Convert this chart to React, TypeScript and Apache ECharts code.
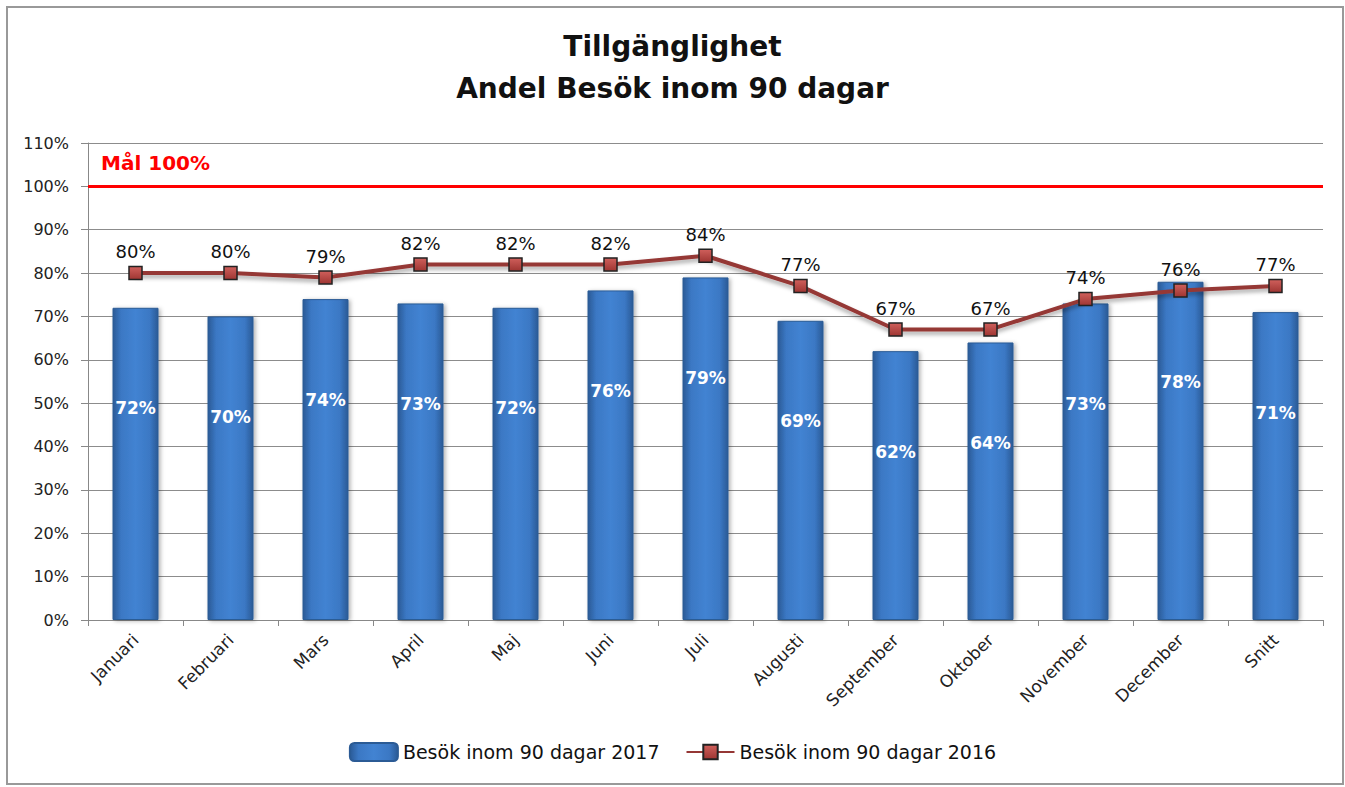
import React, { useEffect, useRef } from "react";
import * as echarts from "echarts";

const categories = ["Januari", "Februari", "Mars", "April", "Maj", "Juni", "Juli", "Augusti", "September", "Oktober", "November", "December", "Snitt"];
const visits2017 = [72, 70, 74, 73, 72, 76, 79, 69, 62, 64, 73, 78, 71];
const visits2016 = [80, 80, 79, 82, 82, 82, 84, 77, 67, 67, 74, 76, 77];
const goalValue = 100;
const titleLines = ["Tillgänglighet", "Andel Besök inom 90 dagar"];
const seriesNames = ["Besök inom 90 dagar 2017", "Besök inom 90 dagar 2016"];
const goalLabel = "Mål 100%";

const FONT = "'DejaVu Sans', 'Liberation Sans', sans-serif";

export default function App() {
  const ref = useRef<HTMLDivElement>(null);
  useEffect(() => {
    document.body.style.margin = "0";
    const chart = echarts.init(ref.current!, null, { renderer: "svg" });
    const barColor = new echarts.graphic.LinearGradient(0, 0, 1, 0, [
      { offset: 0, color: "#2a5a96" },
      { offset: 0.18, color: "#3b78c4" },
      { offset: 0.5, color: "#4283d2" },
      { offset: 0.82, color: "#3b78c4" },
      { offset: 1, color: "#2a5a96" },
    ]);
    const markerColor = new echarts.graphic.LinearGradient(0, 0, 0, 1, [
      { offset: 0, color: "#d0605c" },
      { offset: 1, color: "#9e3532" },
    ]);
    chart.setOption({
      animation: false,
      textStyle: { fontFamily: FONT },
      title: {
        text: titleLines.join("\n"),
        left: "center",
        top: 20,
        textStyle: { fontFamily: FONT, fontSize: 28, fontWeight: "bold", color: "#111", lineHeight: 42 },
      },
      grid: { left: 88, right: 22, top: 143, bottom: 167, containLabel: false },
      legend: {
        top: 737,
        left: "center",
        itemWidth: 48,
        itemHeight: 18,
        itemGap: 26,
        textStyle: { fontFamily: FONT, fontSize: 19, color: "#111" },
        data: [
          { name: seriesNames[0] },
          { name: seriesNames[1] },
        ],
      },
      xAxis: {
        type: "category",
        data: categories,
        axisLine: { lineStyle: { color: "#888", width: 1 } },
        axisTick: { show: true, alignWithLabel: false, length: 6, lineStyle: { color: "#888" } },
        axisLabel: { rotate: 45, fontSize: 17, color: "#222", fontFamily: FONT, margin: 17 },
      },
      yAxis: {
        type: "value",
        min: 0,
        max: 110,
        interval: 10,
        axisLine: { show: true, lineStyle: { color: "#888" } },
        axisTick: { show: true, length: 7, lineStyle: { color: "#888" } },
        axisLabel: { formatter: "{value}%", fontSize: 16, color: "#222", fontFamily: FONT, margin: 19 },
        splitLine: { lineStyle: { color: "#8c8c8c", width: 1 } },
      },
      series: [
        {
          name: seriesNames[0],
          type: "bar",
          data: visits2017,
          barWidth: 46,
          itemStyle: {
            color: barColor,
            borderColor: "#2b5b95",
            borderWidth: 1,
            shadowColor: "rgba(0,0,0,0.3)",
            shadowBlur: 4,
            shadowOffsetX: 2,
            shadowOffsetY: 1,
          },
          label: {
            show: true,
            position: "insideTop",
            distance: 92,
            formatter: "{c}%",
            color: "#fff",
            fontWeight: "bold",
            fontSize: 17,
            fontFamily: FONT,
          },
          markLine: {
            silent: true,
            symbol: "none",
            lineStyle: { color: "#ff0000", width: 3, type: "solid" },
            label: { show: false },
            data: [{ yAxis: goalValue }],
          },
          z: 2,
        },
        {
          name: seriesNames[1],
          type: "line",
          data: visits2016,
          symbol: "rect",
          symbolSize: 13,
          lineStyle: {
            color: "#953735",
            width: 4,
            shadowColor: "rgba(0,0,0,0.35)",
            shadowBlur: 4,
            shadowOffsetY: 3,
          },
          itemStyle: { color: markerColor, borderColor: "#222", borderWidth: 1.5 },
          label: {
            show: true,
            position: "top",
            distance: 5,
            formatter: "{c}%",
            color: "#111",
            fontSize: 18,
            fontFamily: FONT,
          },
          z: 5,
        },
      ],
      graphic: [
        {
          type: "rect",
          shape: { x: 7, y: 7, width: 1336, height: 777 },
          style: { fill: "none", stroke: "#999", lineWidth: 2 },
          silent: true,
        },
        {
          type: "text",
          left: 101,
          top: 153,
          style: { text: goalLabel, fill: "#ff0000", font: `bold 20px ${FONT}` },
        },
      ],
    });
    return () => chart.dispose();
  }, []);
  return <div ref={ref} style={{ width: 1345, height: 787 }} />;
}
